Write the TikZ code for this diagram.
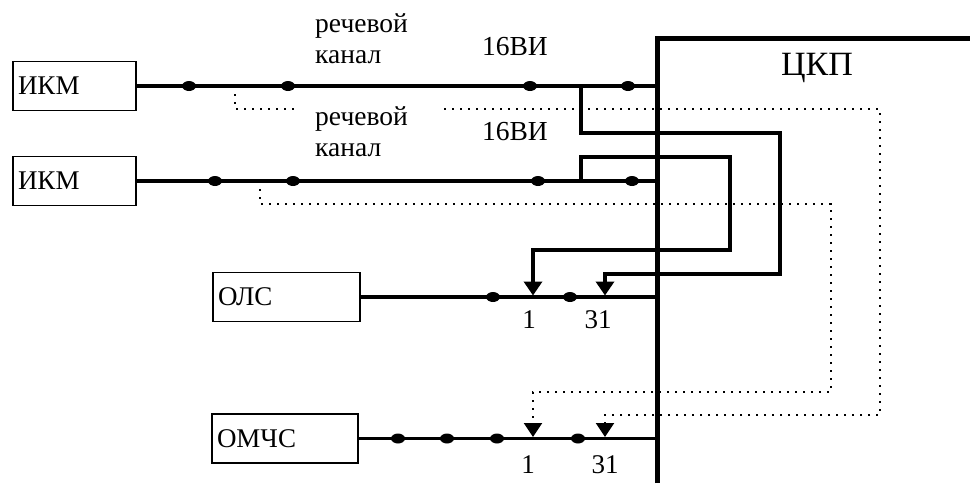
\documentclass[tikz,border=0pt]{standalone}
\usepackage{fontspec}
\setmainfont{Liberation Serif}
\usetikzlibrary{arrows.meta}
\begin{document}
\begin{tikzpicture}[x=1pt,y=-1pt,
  blk/.style={draw, line width=1.7pt, minimum height=49pt, inner xsep=5pt, inner ysep=0pt, align=left, font=\fontsize{27}{30}\selectfont},
  wire/.style={line width=3.8pt},
  busline/.style={line width=5pt},
  sig/.style={line width=2.3pt, dash pattern=on 2.3pt off 5.7pt},
  tip/.style={-{Triangle[width=18pt,length=14pt]}},
  lbl/.style={font=\fontsize{27.5}{31}\selectfont, align=left, inner sep=0pt},
  num/.style={font=\fontsize{27}{30}\selectfont, inner sep=0pt},
]
\useasboundingbox (0,0) rectangle (970,483);

% blocks
\node[blk, minimum width=123pt, text width=113pt] (ikm1) at (74.5,86) {ИКМ};
\node[blk, minimum width=123pt, text width=113pt] (ikm2) at (74.5,181) {ИКМ};
\node[blk, minimum width=147pt, text width=137pt] (ols) at (286.5,297) {ОЛС};
\node[blk, minimum width=146pt, text width=136pt] (omchs) at (285,438.5) {ОМЧС};

% central switching field
\coordinate (ckpT) at (657,38);
\coordinate (ckpB) at (657,483);
\coordinate (ckpR) at (975,38);
\draw[busline] (ckpB) -- (ckpT) -- (ckpR);
\node[font=\fontsize{34}{36}\selectfont] (ckp) at (817,68) {ЦКП};

% bus end points
\coordinate (b1) at (657,86);
\coordinate (b2) at (657,181);
\coordinate (b3) at (657,297);
\coordinate (b4) at (657,438.5);

% junctions and arrow targets
\coordinate (j1) at (581,86);
\coordinate (j2) at (581,181);
\coordinate (s1) at (235,86);
\coordinate (s2) at (260,181);
\coordinate (o1) at (533,295.5);
\coordinate (o31) at (605,295.5);
\coordinate (m1) at (533,437);
\coordinate (m31) at (605,437);

% dotted signalling routes
\draw[sig, tip] (s1) |- (880,109) |- (605,415) -- (m31);
\draw[sig, tip] (s2) |- (831,204) |- (533,392) -- (m1);

% main lines
\draw[wire] (ikm1.east) -- (b1);
\draw[wire] (ikm2.east) -- (b2);
\draw[wire] (ols.east) -- (b3);
\draw[wire] (omchs.east) -- (b4);

% solid speech routes
\draw[wire, tip] (j1) |- (780,133) |- (605,274) -- (o31);
\draw[wire, tip] (j2) |- (730,157) |- (533,250) -- (o1);

% line dots
\foreach \x in {189,288,530,628} \fill (\x,86) ellipse (7 and 5);
\foreach \x in {215,293,538,632} \fill (\x,181) ellipse (7 and 5);
\foreach \x in {493,570} \fill (\x,297) ellipse (7 and 5);
\foreach \x in {398,447,497,578} \fill (\x,438.5) ellipse (7 and 5);

% labels
\node[lbl, anchor=west] (rk1) at (315,39) {речевой\\канал};
\node[lbl, anchor=west, fill=white, inner xsep=15pt, inner ysep=2pt, text width=113pt] (rk2) at (300,132) {речевой\\канал};
\node[lbl] (vi1) at (515,47) {16ВИ};
\node[lbl] (vi2) at (515,132) {16ВИ};

\node[num] (n1a) at (529,320) {1};
\node[num] (n31a) at (598,320) {31};
\node[num] (n1b) at (528,465) {1};
\node[num] (n31b) at (605,465) {31};
\end{tikzpicture}
\end{document}
